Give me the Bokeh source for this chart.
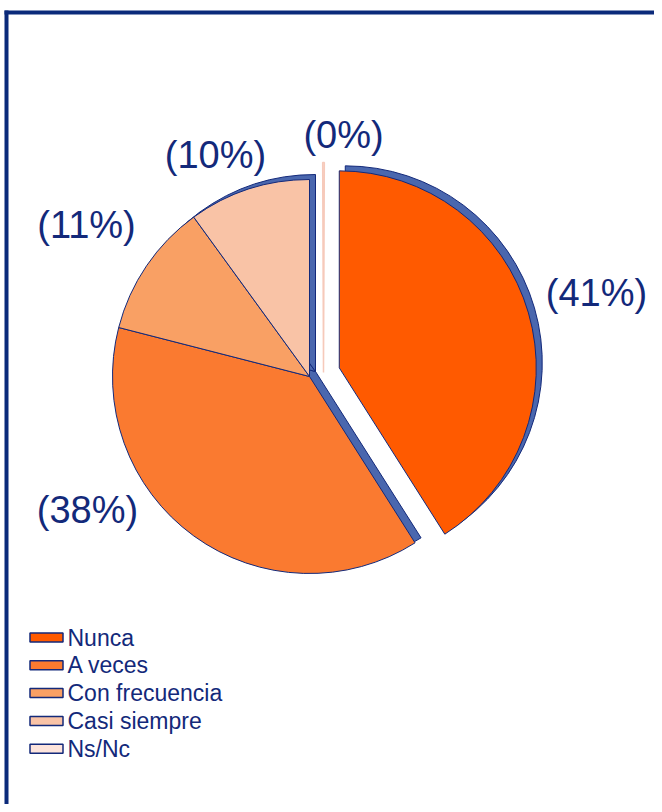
import math
from bokeh.plotting import figure
from bokeh.models import Range1d
from bokeh.core.properties import value
from bokeh.embed import file_html
from bokeh.resources import INLINE

# ---------------- data ----------------
categories = ["Nunca", "A veces", "Con frecuencia", "Casi siempre", "Ns/Nc"]
percent = [41, 38, 11, 10, 0]
pct_labels = ["(41%)", "(38%)", "(11%)", "(10%)", "(0%)"]

# ---------------- style / layout ----------------
colors = ["#ff5a00", "#fa7a30", "#f9a064", "#f9c3a6", "#fde4dc"]
explode = [31, 0, 0, 0, 0]
NAVY = "#13297a"
SHADOW = "#4a67ae"
W, H = 654, 804


def X(sx):
    return sx


def Y(sy):
    return H - sy


cx, cy = X(309), Y(376)
R = 197
label_screen = [(596, 292), (87, 509), (86, 224), (215, 154), (343, 134)]

p = figure(width=W, height=H, x_range=Range1d(0, W), y_range=Range1d(0, H),
           output_backend="svg", toolbar_location=None,
           x_axis_type=None, y_axis_type=None, min_border=0)
p.outline_line_color = None
p.grid.visible = False
p.background_fill_color = "white"
p.border_fill_color = "white"

# frame border (top and left visible)
p.quad(left=[X(4), X(4)], right=[X(8), W], bottom=[0, Y(14)], top=[Y(10), Y(10)],
       fill_color="#0b2a7a", line_color=None)

# wedge geometry
total = sum(percent)
starts, ends, xs, ys = [], [], [], []
cum = 0.0
for i, v in enumerate(percent):
    a0 = cum / total * 2 * math.pi
    cum += v
    a1 = cum / total * 2 * math.pi
    mid = (a0 + a1) / 2
    xs.append(cx + explode[i] * math.sin(mid))
    ys.append(cy + explode[i] * math.cos(mid))
    starts.append(math.pi / 2 - a0)
    ends.append(math.pi / 2 - a1)

idx = [i for i, v in enumerate(percent) if v > 0]

# 3D-like shadow
p.wedge(x=[xs[i] + 6 for i in idx], y=[ys[i] + 5 for i in idx], radius=R,
        start_angle=[starts[i] for i in idx], end_angle=[ends[i] for i in idx],
        direction="clock", fill_color=SHADOW, line_color=NAVY, line_width=1)

# slices
p.wedge(x=[xs[i] for i in idx], y=[ys[i] for i in idx], radius=R,
        start_angle=[starts[i] for i in idx], end_angle=[ends[i] for i in idx],
        direction="clock", fill_color=[colors[i] for i in idx],
        line_color=NAVY, line_width=1)

# zero slice (Ns/Nc) drawn as a hairline wedge
for i, v in enumerate(percent):
    if v == 0:
        p.wedge(x=[X(323)], y=[Y(372)], radius=210,
                start_angle=[math.pi / 2 + 0.004], end_angle=[math.pi / 2 - 0.004],
                direction="clock", fill_color=colors[i],
                line_color="#f6cabb", line_width=1.5)

# percentage labels
p.text(x=[X(s[0]) for s in label_screen], y=[Y(s[1]) for s in label_screen],
       text=pct_labels, text_font=value("Liberation Sans"),
       text_font_size="38px", text_color=NAVY,
       text_align="center", text_baseline="middle")

# legend
leg_y = [Y(637 + k * 27.8) for k in range(len(categories))]
p.rect(x=[X(46)] * len(categories), y=leg_y, width=33, height=9,
       fill_color=colors, line_color=NAVY, line_width=1.5)
p.text(x=[X(67)] * len(categories), y=leg_y, text=categories,
       text_font=value("Liberation Sans"), text_font_size="23px",
       text_color=NAVY, text_align="left", text_baseline="middle")

open("out.html", "w").write(file_html(p, INLINE))
